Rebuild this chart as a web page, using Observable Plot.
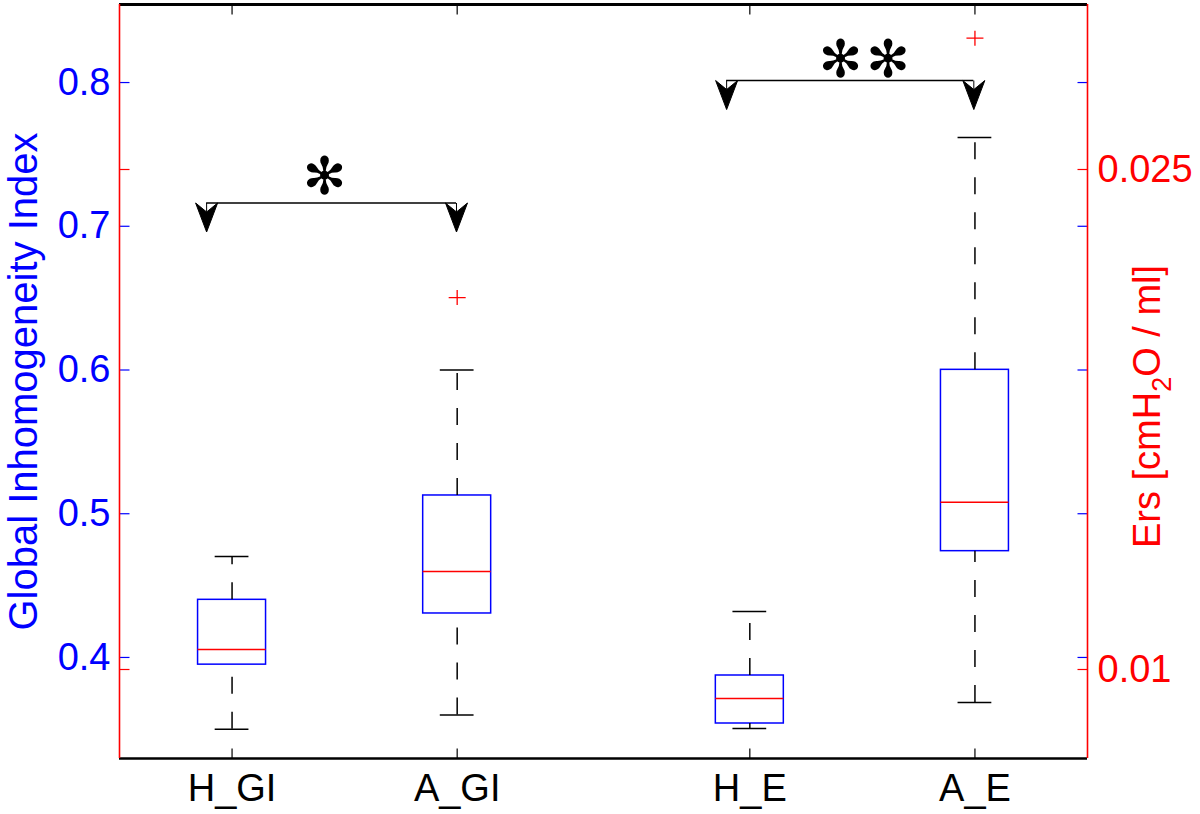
<!DOCTYPE html>
<html><head><meta charset="utf-8">
<script src="https://cdn.jsdelivr.net/npm/d3@7"></script>
<script src="https://cdn.jsdelivr.net/npm/@observablehq/plot@0.6"></script>
<style>body{margin:0;background:#fff;} #chart svg{display:block}</style>
</head><body><div id="chart"></div>
<script>
// ---- data ----
const groups = ["H_GI", "A_GI", "H_E", "A_E"];
const positions = [1, 2, 3.3, 4.3];
const groupAxis = ["left", "left", "right", "right"];
const whiskerLow = [0.350, 0.360, 0.00823, 0.00901];
const q1 = [0.395, 0.4306, 0.00838, 0.01355];
const medians = [0.4056, 0.4598, 0.00913, 0.01502];
const q3 = [0.4401, 0.5127, 0.00982, 0.01899];
const whiskerHigh = [0.4703, 0.600, 0.01174, 0.02596];
const outlierGroups = ["A_GI", "A_E"];
const outlierValues = [0.6504, 0.02894];
const leftTicks = [0.4, 0.5, 0.6, 0.7, 0.8];
const rightTicks = [0.01, 0.025];
const leftDomain = [0.3297, 0.8543];
const rightDomain = [0.00733, 0.02995];
const xDomain = [0.5, 4.8];
const bracketFrom = [0.887, 3.197];
const bracketTo = [1.997, 4.295];
const bracketLevel = [0.7162, 0.8014];
const starLabels = ["\u273B", "\u273B\u273B"];
const starX = [1.411, 3.817];
const starY = [0.735, 0.816];
const leftTitle = "Global Inhomogeneity Index";
const rightTitleParts = ["Ers [cmH", "2", "O / ml]"];
const rightTitle = rightTitleParts.join("");

// ---- derived ----
const toLeft = d3.scaleLinear().domain(rightDomain).range(leftDomain);
const conv = (i, v) => groupAxis[i] === "right" ? toLeft(v) : v;
const boxes = groups.map((g, i) => ({
  group: g, pos: positions[i],
  lo: conv(i, whiskerLow[i]), q1: conv(i, q1[i]), med: conv(i, medians[i]),
  q3: conv(i, q3[i]), hi: conv(i, whiskerHigh[i])
}));
const outliers = outlierGroups.map((g, j) => {
  const i = groups.indexOf(g);
  return {pos: positions[i], v: conv(i, outlierValues[j])};
});
const brackets = bracketFrom.map((f, i) => ({from: f, to: bracketTo[i], y: bracketLevel[i]}));
const arrows = brackets.flatMap(b => [{x: b.from, y: b.y}, {x: b.to, y: b.y}]);
const stars = starLabels.map((s, i) => ({s, x: starX[i], y: starY[i]}));
const rightTickPos = rightTicks.map(v => toLeft(v));

const BOX = 0.151, CAP = 0.075, TL = 10;
const sym = (f) => ({draw: f});
const tickR = sym(c => { c.moveTo(0, 0); c.lineTo(TL, 0); });
const tickL = sym(c => { c.moveTo(0, 0); c.lineTo(-TL, 0); });
const tickU = sym(c => { c.moveTo(0, 0); c.lineTo(0, -TL); });
const tickD = sym(c => { c.moveTo(0, 0); c.lineTo(0, TL); });
const plus = sym(c => { c.moveTo(-8.5, 0); c.lineTo(8.5, 0); c.moveTo(0, -7.5); c.lineTo(0, 7.5); });
const arrowHead = sym(c => {
  c.moveTo(0, 0); c.lineTo(0, 9);
  c.moveTo(-11, 0); c.lineTo(0, 29); c.lineTo(11, 0); c.lineTo(0, 9); c.closePath();
});

const fmtRight = d3.format(".3~f");
const fmtLeft = d3.format(".1f");

const chart = Plot.plot({
  width: 1200, height: 814,
  marginLeft: 119, marginRight: 113, marginTop: 4, marginBottom: 56,
  style: {fontFamily: "'Liberation Sans', Arial, Helvetica, sans-serif", fontSize: "38px", background: "white", overflow: "visible"},
  x: {type: "linear", domain: xDomain, axis: null},
  y: {type: "linear", domain: leftDomain, axis: null},
  marks: [
    // boxes
    Plot.rect(boxes, {x1: d => d.pos - BOX, x2: d => d.pos + BOX, y1: "q1", y2: "q3", fill: "none", stroke: "#0000ff", strokeWidth: 1.5}),
    Plot.ruleY(boxes, {x1: d => d.pos - BOX, x2: d => d.pos + BOX, y: "med", stroke: "#ff0000", strokeWidth: 1.5}),
    Plot.ruleX(boxes, {x: "pos", y1: "q3", y2: "hi", stroke: "black", strokeWidth: 1.5, strokeDasharray: "17,18"}),
    Plot.ruleX(boxes, {x: "pos", y1: "lo", y2: "q1", stroke: "black", strokeWidth: 1.5, strokeDasharray: "17,18"}),
    Plot.ruleY(boxes, {x1: d => d.pos - CAP, x2: d => d.pos + CAP, y: "hi", stroke: "black", strokeWidth: 1.5}),
    Plot.ruleY(boxes, {x1: d => d.pos - CAP, x2: d => d.pos + CAP, y: "lo", stroke: "black", strokeWidth: 1.5}),
    Plot.dot(outliers, {x: "pos", y: "v", symbol: plus, fill: "none", stroke: "#ff0000", strokeWidth: 1.3}),
    // significance brackets
    Plot.ruleY(brackets, {x1: "from", x2: "to", y: "y", stroke: "black", strokeWidth: 1.5}),
    Plot.dot(arrows, {x: "x", y: "y", symbol: arrowHead, fill: "black", stroke: "black", strokeWidth: 1}),
    Plot.text(stars, {x: "x", y: "y", text: "s", fontFamily: "'DejaVu Sans'", fontSize: 52, dy: 1, fill: "black"}),
    // axes labels
    Plot.axisY({anchor: "left", ticks: leftTicks, tickFormat: fmtLeft, tickSize: 0, tickPadding: 9, color: "#0000ff", label: null}),
    Plot.axisY({anchor: "right", ticks: rightTickPos, tickFormat: d => fmtRight(toLeft.invert(d)), tickSize: 0, tickPadding: 10, color: "#ff0000", label: null}),
    Plot.axisX({anchor: "bottom", ticks: positions, tickFormat: d => groups[positions.indexOf(d)], tickSize: 0, tickPadding: 16, color: "black", label: null}),
    // inward tick marks
    Plot.dot(leftTicks, {y: d => d, frameAnchor: "left", symbol: tickR, fill: "none", stroke: "#0000ff", strokeWidth: 1.2}),
    Plot.dot(leftTicks, {y: d => d, frameAnchor: "right", symbol: tickL, fill: "none", stroke: "#0000ff", strokeWidth: 1.2}),
    Plot.dot(rightTickPos, {y: d => d, frameAnchor: "left", symbol: tickR, fill: "none", stroke: "#ff0000", strokeWidth: 1.2}),
    Plot.dot(rightTickPos, {y: d => d, frameAnchor: "right", symbol: tickL, fill: "none", stroke: "#ff0000", strokeWidth: 1.2}),
    Plot.dot(positions, {x: d => d, frameAnchor: "bottom", symbol: tickU, fill: "none", stroke: "black", strokeWidth: 1.2}),
    Plot.dot(positions, {x: d => d, frameAnchor: "top", symbol: tickD, fill: "none", stroke: "black", strokeWidth: 1.2}),
    // frame
    Plot.ruleY([leftDomain[1]], {stroke: "black", strokeWidth: 2.8}),
    Plot.ruleY([leftDomain[0]], {stroke: "black", strokeWidth: 2.5}),
    Plot.ruleX([xDomain[0]], {stroke: "#ff0000", strokeWidth: 1.6}),
    Plot.ruleX([xDomain[1]], {stroke: "#ff0000", strokeWidth: 1.6}),
    // axis titles
    Plot.text([leftTitle], {frameAnchor: "left", textAnchor: "middle", dx: -95, rotate: -90, fill: "#0000ff", fontSize: 40}),
    Plot.text([rightTitle], {frameAnchor: "right", textAnchor: "middle", dx: 60, dy: 25, rotate: -90, fill: "#ff0000", fontSize: 38})
  ]
});

const ns = "http://www.w3.org/2000/svg";
chart.querySelectorAll("text").forEach(t => {
  // subscript in the right axis title
  if (t.textContent === rightTitle) {
    t.textContent = "";
    const a = document.createElementNS(ns, "tspan"); a.textContent = rightTitleParts[0];
    const b = document.createElementNS(ns, "tspan"); b.textContent = rightTitleParts[1];
    b.setAttribute("font-size", "27"); b.setAttribute("dy", "11");
    const c = document.createElementNS(ns, "tspan"); c.textContent = rightTitleParts[2];
    c.setAttribute("dy", "-11");
    t.append(a, b, c);
  }
  // spacing between the two significance stars
  if (t.textContent === starLabels[1]) t.style.letterSpacing = "4px";
});
document.getElementById("chart").append(chart);
</script>
</body></html>
